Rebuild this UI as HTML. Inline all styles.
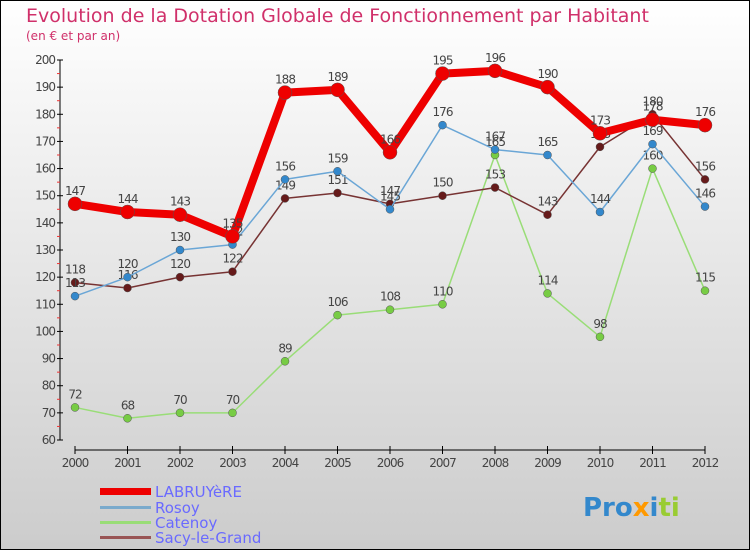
<!DOCTYPE html>
<html><head><meta charset="utf-8"><style>
body{margin:0}
#c{width:750px;height:550px;position:relative;overflow:hidden;font-family:"DejaVu Sans","Liberation Sans",sans-serif}
</style></head><body>
<div id="c">
<svg width="750" height="550" id="svg">
<defs><linearGradient id="bg" x1="0" y1="0" x2="0" y2="1"><stop offset="0" stop-color="#ffffff"/><stop offset="1" stop-color="#cccccc"/></linearGradient></defs>
<rect x="0" y="0" width="750" height="550" fill="url(#bg)" stroke="#000" stroke-width="2"/>
<text x="26" y="22" font-size="19" fill="#d0306a">Evolution de la Dotation Globale de Fonctionnement par Habitant</text>
<text x="26" y="40" font-size="12" fill="#d0306a">(en € et par an)</text>
<g id="axes"></g>
<g id="series"></g>
<g id="legend" font-size="15" fill="#6a6aff">
<rect x="100" y="488" width="51" height="7" fill="#e00"/>
<text x="155" y="497">LABRUYèRE</text>
<rect x="100" y="506" width="51" height="3" fill="#7aaacc"/>
<text x="155" y="513">Rosoy</text>
<rect x="100" y="521" width="51" height="3" fill="#99dd77"/>
<text x="155" y="528">Catenoy</text>
<rect x="100" y="536" width="51" height="3" fill="#995555"/>
<text x="155" y="543">Sacy-le-Grand</text>
</g>
<text x="583" y="516" font-size="26" font-weight="bold"><tspan fill="#3388cc">Pro</tspan><tspan fill="#ff9900">x</tspan><tspan fill="#3388cc">i</tspan><tspan fill="#99cc33">ti</tspan></text>
</svg>
</div>
<script>
const years=["2000","2001","2002","2003","2004","2005","2006","2007","2008","2009","2010","2011","2012"];
const labruyere=[147,144,143,135,188,189,166,195,196,190,173,178,176];
const rosoy=[113,120,130,132,156,159,145,176,167,165,144,169,146];
const catenoy=[72,68,70,70,89,106,108,110,165,114,98,160,115];
const sacy=[118,116,120,122,149,151,147,150,153,143,168,180,156];
const yTicks=[60,70,80,90,100,110,120,130,140,150,160,170,180,190,200];
const NS="http://www.w3.org/2000/svg";
function X(i){return 75+i*52.5}
function Y(v){return 440-(v-60)*380/140}
function mk(t,a,p){const e=document.createElementNS(NS,t);for(const k in a)e.setAttribute(k,a[k]);p.appendChild(e);return e}
const ax=document.getElementById('axes');
let e=mk('line',{x1:60,y1:60,x2:60,y2:440,stroke:'#000'},ax);


e=mk('line',{x1:75,y1:450,x2:705,y2:450,stroke:'#000'},ax);


yTicks.forEach(v=>{
 mk('line',{x1:57,y1:Y(v),x2:63,y2:Y(v),stroke:'#000'},ax);
 if(v<200) mk('line',{x1:57,y1:Y(v+5),x2:60,y2:Y(v+5),stroke:'#e33'},ax);
 const t=mk('text',{x:55,y:Y(v)+4,'text-anchor':'end','font-size':12,fill:'#444','letter-spacing':'-1'},ax);
 t.textContent=v;
 
 
});
years.forEach((y,i)=>{
 mk('line',{x1:X(i),y1:446,x2:X(i),y2:454,stroke:'#000'},ax);
 const t=mk('text',{x:X(i),y:467,'text-anchor':'middle','font-size':12,fill:'#444','letter-spacing':'-1'},ax);
 t.textContent=y;
 
 
});
const sg=document.getElementById('series');
function draw(data,color,dot,w,r,name){
 const g=mk('g',{},sg);
 
 
 const l=mk('polyline',{points:data.map((v,i)=>X(i)+','+Y(v)).join(' '),fill:'none',stroke:color,'stroke-width':w,'stroke-linejoin':'round'},g);
 
 
 data.forEach((v,i)=>{
  const c=mk('circle',{cx:X(i),cy:Y(v),r:r,fill:dot,stroke:'#555','stroke-width':0.5},g);
  
  
  const t=mk('text',{x:X(i),y:Y(v)-9,'text-anchor':'middle','font-size':12,fill:'#444','letter-spacing':'-1'},g);
  t.textContent=v;
  
  
 });
}
draw(catenoy,'#99dd77','#77cc44',1.5,4,'catenoy');
draw(sacy,'#773333','#661a1a',1.5,4,'sacy-le-grand');
draw(rosoy,'#6aa6d6','#3388cc',1.5,4,'rosoy');
draw(labruyere,'#ee0000','#ee0000',8,7,'labruyere');
</script>
</body></html>
